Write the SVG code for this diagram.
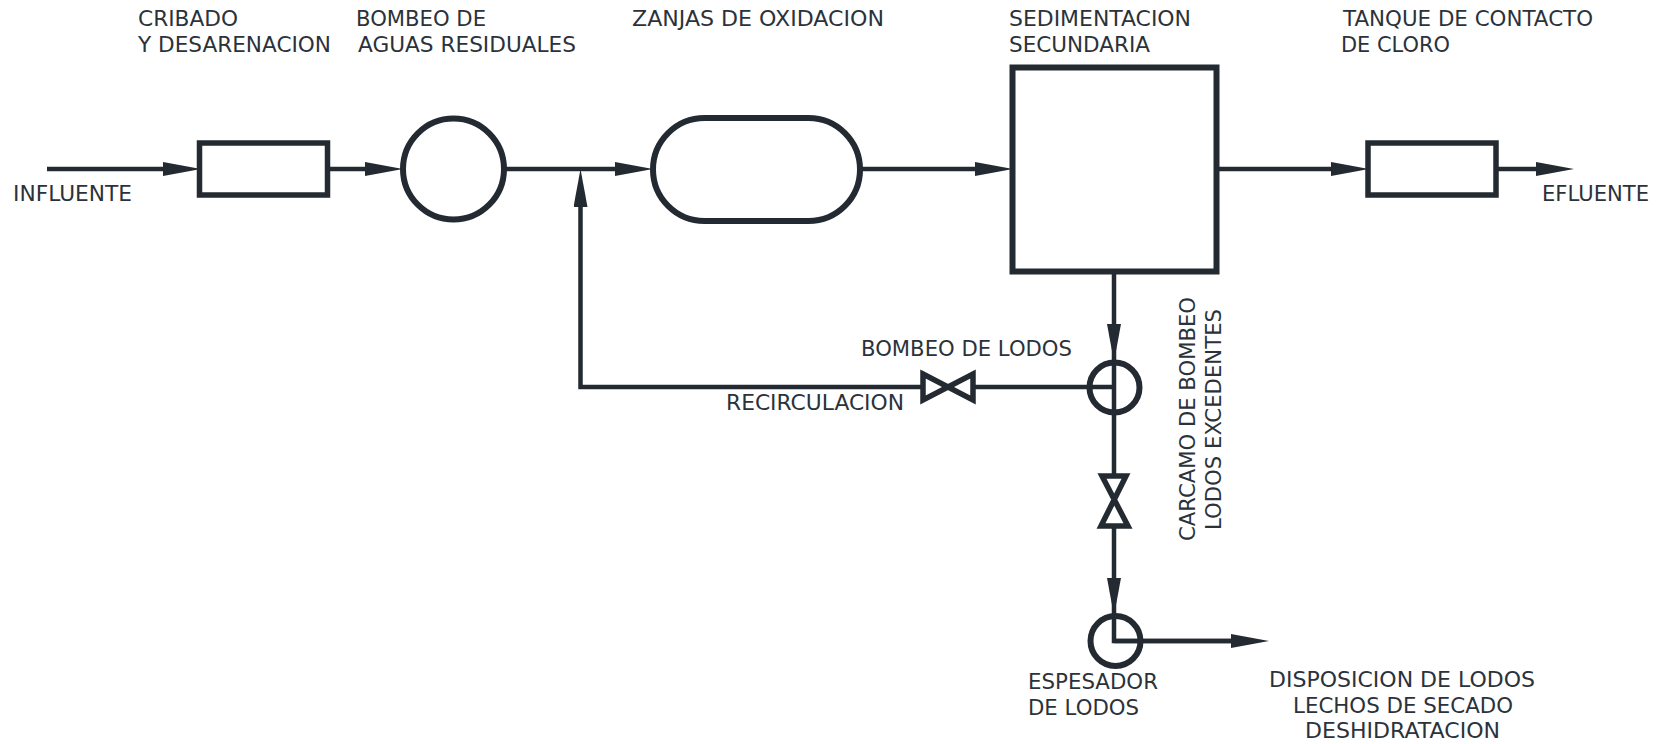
<svg xmlns="http://www.w3.org/2000/svg" width="1664" height="744" viewBox="0 0 1664 744">
<style>
.s{fill:none;stroke:#232a31;stroke-width:5.500}
.c{fill:none;stroke:#232a31;stroke-width:4.500;stroke-linejoin:miter}
text{font-family:"DejaVu Sans",Verdana,sans-serif;font-size:21.300px;fill:#2b323a}
</style>
<defs>
<marker id="a" markerUnits="userSpaceOnUse" markerWidth="38" markerHeight="15" refX="20" refY="7" orient="auto"><path d="M0 0L38 7L0 14Z" fill="#232a31"/></marker>
</defs>
<rect width="1664" height="744" fill="#fff"/>
<g id="connectors">
<path class="c" marker-end="url(#a)" d="M47 169H183"/>
<path class="c" marker-end="url(#a)" d="M328 169H385"/>
<path class="c" marker-end="url(#a)" d="M506 169H635"/>
<path class="c" marker-end="url(#a)" d="M862 169H995"/>
<path class="c" marker-end="url(#a)" d="M1217 169H1351"/>
<path class="c" marker-end="url(#a)" d="M1496 169H1556"/>
<path class="c" marker-end="url(#a)" d="M921 387H580.500V187"/>
<path class="c" marker-end="url(#a)" d="M1114 272V344"/>
<path class="c" d="M1114 344V474"/>
<path class="c" d="M974 387H1114"/>
<path class="c" marker-end="url(#a)" d="M1114 527V598"/>
<path class="c" d="M1114 598V641H1251"/>
<path class="c" marker-end="url(#a)" d="M1114 641H1251"/>
</g>
<g id="n-cribado"><rect class="s" x="199.500" y="143" width="128" height="52"/></g>
<g id="n-bombeo"><circle class="s" cx="453.500" cy="169" r="50.500" style="stroke-width:6"/></g>
<g id="n-zanjas"><rect class="s" x="653" y="118" width="207" height="103" rx="51.500" style="stroke-width:6"/></g>
<g id="n-sedimentacion"><rect class="s" x="1012.500" y="67.500" width="204" height="204" style="stroke-width:6"/></g>
<g id="n-tanque"><rect class="s" x="1368" y="143" width="128" height="52"/></g>
<g id="n-valvula1"><path class="s" d="M923 374L973 400V374L923 400Z"/></g>
<g id="n-valvula2"><path class="s" d="M1102 476H1126L1101 526H1128Z"/></g>
<g id="n-carcamo"><circle class="s" cx="1114.500" cy="387.500" r="25" style="stroke-width:6"/></g>
<g id="n-espesador"><circle class="s" cx="1115.500" cy="641" r="25" style="stroke-width:6"/></g>
<g id="labels">
<text x="138" y="26" textLength="100" lengthAdjust="spacingAndGlyphs">CRIBADO</text>
<text x="138" y="52" textLength="193" lengthAdjust="spacingAndGlyphs">Y DESARENACION</text>
<text x="356" y="26" textLength="130" lengthAdjust="spacingAndGlyphs">BOMBEO DE</text>
<text x="358" y="52" textLength="218" lengthAdjust="spacingAndGlyphs">AGUAS RESIDUALES</text>
<text x="632" y="26" textLength="252" lengthAdjust="spacingAndGlyphs">ZANJAS DE OXIDACION</text>
<text x="1009" y="26" textLength="182" lengthAdjust="spacingAndGlyphs">SEDIMENTACION</text>
<text x="1009" y="52" textLength="141" lengthAdjust="spacingAndGlyphs">SECUNDARIA</text>
<text x="1343" y="26" textLength="250" lengthAdjust="spacingAndGlyphs">TANQUE DE CONTACTO</text>
<text x="1341" y="52" textLength="109" lengthAdjust="spacingAndGlyphs">DE CLORO</text>
<text x="13" y="201" textLength="119" lengthAdjust="spacingAndGlyphs">INFLUENTE</text>
<text x="1542" y="201" textLength="107" lengthAdjust="spacingAndGlyphs">EFLUENTE</text>
<text x="861" y="356" textLength="211" lengthAdjust="spacingAndGlyphs">BOMBEO DE LODOS</text>
<text x="726" y="410" textLength="178" lengthAdjust="spacingAndGlyphs">RECIRCULACION</text>
<text transform="translate(1195 541) rotate(-90)" textLength="244" lengthAdjust="spacingAndGlyphs">CARCAMO DE BOMBEO</text>
<text transform="translate(1221 530) rotate(-90)" textLength="221" lengthAdjust="spacingAndGlyphs">LODOS EXCEDENTES</text>
<text x="1028" y="689" textLength="130" lengthAdjust="spacingAndGlyphs">ESPESADOR</text>
<text x="1028" y="715" textLength="111" lengthAdjust="spacingAndGlyphs">DE LODOS</text>
<text x="1269" y="687" textLength="266" lengthAdjust="spacingAndGlyphs">DISPOSICION DE LODOS</text>
<text x="1293" y="713" textLength="220" lengthAdjust="spacingAndGlyphs">LECHOS DE SECADO</text>
<text x="1305" y="738" textLength="195" lengthAdjust="spacingAndGlyphs">DESHIDRATACION</text>
</g>
</svg>
